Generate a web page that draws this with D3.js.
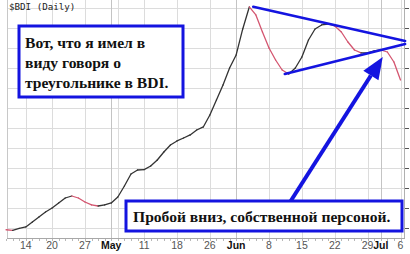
<!DOCTYPE html>
<html>
<head>
<meta charset="utf-8">
<script src="https://cdn.jsdelivr.net/npm/d3@7"></script>
<style>
  body { margin: 0; background: #fff; }
  svg { display: block; }
</style>
</head>
<body>
<div id="chart"></div>
<script>
// trading days shown on the chart (BDI, Apr - Jul 2009)
var dates = ["Apr 7", "Apr 8", "Apr 9",
  "Apr 14", "Apr 15", "Apr 16", "Apr 17",
  "Apr 20", "Apr 21", "Apr 22", "Apr 23", "Apr 24",
  "Apr 27", "Apr 28", "Apr 29", "Apr 30", "May 1",
  "May 5", "May 6", "May 7", "May 8",
  "May 11", "May 12", "May 13", "May 14", "May 15",
  "May 18", "May 19", "May 20", "May 21", "May 22",
  "May 26", "May 27", "May 28", "May 29",
  "Jun 1", "Jun 2", "Jun 3", "Jun 4", "Jun 5",
  "Jun 8", "Jun 9", "Jun 10", "Jun 11", "Jun 12",
  "Jun 15", "Jun 16", "Jun 17", "Jun 18", "Jun 19",
  "Jun 22", "Jun 23", "Jun 24", "Jun 25", "Jun 26",
  "Jun 29", "Jun 30", "Jul 1", "Jul 2", "Jul 3", "Jul 6"];

var values = [1478, 1470, 1495,
  1513, 1575, 1638, 1700,
  1750, 1813, 1875, 1900, 1875,
  1825, 1788, 1775, 1788, 1813,
  1888, 2025, 2175, 2225,
  2230, 2275, 2350, 2450, 2538,
  2588, 2625, 2663, 2725, 2763,
  2913, 3100, 3288, 3500,
  3663, 3988, 4263, 4163, 3950,
  3750, 3600, 3475, 3425, 3500,
  3638, 3850, 3988, 4038, 4050,
  4025, 3950, 3825, 3725, 3688,
  3690, 3713, 3725, 3700, 3575, 3350];

// x axis: week/month lines and their labels
var tickDates = ["Apr 14", "Apr 20", "Apr 27", "May 1", "May 5", "May 11", "May 18", "May 26",
  "Jun 1", "Jun 8", "Jun 15", "Jun 22", "Jun 29", "Jul 1", "Jul 6"];
var tickLabels = ["14", "20", "27", "May", "", "11", "18", "26",
  "Jun", "8", "15", "22", "29", "Jul", "6"];
var monthTicks = ["May", "Jun", "Jul"];

var yTicks = d3.range(1500, 4501, 250);

// triangle drawn over the chart: [trading day position, value]
var upperTrend = [[34.6, 4265], [57.7, 3838]];
var lowerTrend = [[39.4, 3425], [57.7, 3800]];
var arrowPts = [[40.3, 1838], [54.3, 3638]];

var note1 = ["Вот, что я имел в", "виду говоря о", "треугольнике в BDI."];
var note2 = "Пробой вниз, собственной персоной.";

var width = 410, height = 254;
var blue = "#1414e0";

var svg = d3.select("#chart").append("svg")
  .attr("width", width)
  .attr("height", height)
  .style("font-family", "Liberation Sans, Arial, sans-serif");

var idx0 = dates.indexOf("Apr 14");
var x = d3.scaleLinear().domain([0, 57]).range([25.8, 400.5]);
var y = d3.scaleLinear().domain([1500, 4250]).range([228, 8]);
function xd(name) { return x(dates.indexOf(name) - idx0); }

var left = 7, right = 404, bottom = 238;

// grid
svg.append("g").selectAll("line")
  .data(yTicks)
  .enter().append("line")
  .attr("x1", left).attr("x2", right)
  .attr("y1", function(d) { return Math.round(y(d)) + 0.5; })
  .attr("y2", function(d) { return Math.round(y(d)) + 0.5; })
  .attr("stroke", "#dcdcdc");

svg.append("g").selectAll("line")
  .data(tickDates)
  .enter().append("line")
  .attr("x1", function(d) { return Math.round(xd(d)) + 0.5; })
  .attr("x2", function(d) { return Math.round(xd(d)) + 0.5; })
  .attr("y1", 0).attr("y2", bottom)
  .attr("stroke", function(d, i) { return monthTicks.indexOf(tickLabels[i]) >= 0 ? "#c4c4c4" : "#dcdcdc"; });

// frame
svg.append("line").attr("x1", left + 0.5).attr("x2", left + 0.5).attr("y1", 0).attr("y2", bottom)
  .attr("stroke", "#c8c8c8");
svg.append("line").attr("x1", right + 0.5).attr("x2", right + 0.5).attr("y1", 0).attr("y2", bottom)
  .attr("stroke", "#b0b0b0");
svg.append("line").attr("x1", left).attr("x2", right + 1).attr("y1", bottom + 0.5).attr("y2", bottom + 0.5)
  .attr("stroke", "#a8a8a8");

// daily minor ticks
svg.append("g").selectAll("line")
  .data(dates)
  .enter().append("line")
  .attr("x1", function(d) { return Math.round(xd(d)) + 0.5; })
  .attr("x2", function(d) { return Math.round(xd(d)) + 0.5; })
  .attr("y1", bottom + 1).attr("y2", bottom + 3)
  .attr("stroke", "#b8b8b8");

// right axis ticks (labels fall outside the picture)
var yAxis = d3.axisRight(y).tickValues(yTicks).tickSize(4).tickFormat("");
svg.append("g")
  .attr("transform", "translate(" + (right + 1) + ",0)")
  .call(yAxis)
  .call(function(g) {
    g.select(".domain").remove();
    g.selectAll(".tick line").attr("stroke", "#555");
  });

// x labels
svg.append("g").selectAll("text")
  .data(tickDates)
  .enter().append("text")
  .attr("x", function(d) { return xd(d); })
  .attr("y", 249)
  .attr("text-anchor", "middle")
  .style("font-size", "10.5px")
  .style("font-weight", function(d, i) { return monthTicks.indexOf(tickLabels[i]) >= 0 ? "bold" : "normal"; })
  .attr("fill", function(d, i) { return monthTicks.indexOf(tickLabels[i]) >= 0 ? "#111" : "#555"; })
  .text(function(d, i) { return tickLabels[i]; });

// price line, black when rising, red when falling
var pts = dates.map(function(d, i) { return [xd(d), y(values[i])]; });
svg.append("g").selectAll("line")
  .data(pts.slice(1))
  .enter().append("line")
  .attr("x1", function(d, i) { return pts[i][0]; })
  .attr("y1", function(d, i) { return pts[i][1]; })
  .attr("x2", function(d) { return d[0]; })
  .attr("y2", function(d) { return d[1]; })
  .attr("stroke", function(d, i) { return values[i + 1] >= values[i] ? "#333" : "#d45670"; })
  .attr("stroke-width", 1.3)
  .attr("stroke-linecap", "round");

// title
svg.append("text")
  .attr("x", 9).attr("y", 10)
  .style("font-family", "DejaVu Sans Mono, monospace")
  .style("font-size", "9.2px")
  .attr("fill", "#222")
  .text("$BDI (Daily)");

// triangle
function px(p) { return [x(p[0]), y(p[1])]; }
[upperTrend, lowerTrend].forEach(function(t) {
  svg.append("line")
    .attr("x1", px(t[0])[0]).attr("y1", px(t[0])[1])
    .attr("x2", px(t[1])[0]).attr("y2", px(t[1])[1])
    .attr("stroke", blue)
    .attr("stroke-width", 2.6)
    .attr("stroke-linecap", "round");
});

// arrow
var a0 = px(arrowPts[0]), a1 = px(arrowPts[1]);
var ang = Math.atan2(a1[1] - a0[1], a1[0] - a0[0]);
var headLen = 22, headW = 9;
var bx = a1[0] - headLen * Math.cos(ang), by = a1[1] - headLen * Math.sin(ang);
svg.append("line")
  .attr("x1", a0[0]).attr("y1", a0[1])
  .attr("x2", bx).attr("y2", by)
  .attr("stroke", blue)
  .attr("stroke-width", 4);
svg.append("path")
  .attr("d", d3.line()([
    a1,
    [bx + headW * Math.sin(ang), by - headW * Math.cos(ang)],
    [bx - headW * Math.sin(ang), by + headW * Math.cos(ang)]
  ]) + "Z")
  .attr("fill", blue);

// note boxes
svg.append("rect")
  .attr("x", 19).attr("y", 26).attr("width", 164).attr("height", 71)
  .attr("fill", "#fff").attr("stroke", blue).attr("stroke-width", 3);
svg.append("g").selectAll("text")
  .data(note1)
  .enter().append("text")
  .attr("x", 25)
  .attr("y", function(d, i) { return 48 + i * 20; })
  .style("font-family", "Liberation Serif, Times New Roman, serif")
  .style("font-weight", "bold")
  .style("font-size", "15.6px")
  .attr("fill", "#111")
  .text(function(d) { return d; });

svg.append("rect")
  .attr("x", 126).attr("y", 201).attr("width", 276).attr("height", 30)
  .attr("fill", "#fff").attr("stroke", blue).attr("stroke-width", 3);
svg.append("text")
  .attr("x", 133).attr("y", 222)
  .style("font-family", "Liberation Serif, Times New Roman, serif")
  .style("font-weight", "bold")
  .style("font-size", "15.6px")
  .attr("fill", "#111")
  .text(note2);
</script>
</body>
</html>
